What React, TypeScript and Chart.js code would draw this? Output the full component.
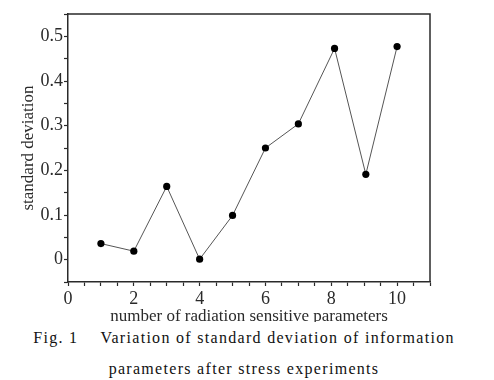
import React, { useEffect, useRef } from "react";
import { Chart, registerables } from "chart.js";

Chart.register(...registerables);

const paramCounts = [1, 2, 3, 4, 5, 6, 7, 8.1, 9.05, 10];
const stdDev = [0.036, 0.019, 0.164, 0.001, 0.099, 0.25, 0.304, 0.473, 0.191, 0.477];
const xTitle = "number of radiation sensitive parameters";
const yTitle = "standard deviation";
const captionLine1a = "Fig. 1";
const captionLine1b = "Variation of standard deviation of information";
const captionLine2 = "parameters after stress experiments";

const SERIF = "'Liberation Serif', 'Times New Roman', serif";
const INK = "#2a2a2a";

const framePlugin = {
  id: "frameBox",
  afterDraw(chart: any) {
    const { ctx, chartArea } = chart;
    ctx.save();
    ctx.strokeStyle = INK;
    ctx.lineWidth = 1.5;
    ctx.beginPath();
    ctx.moveTo(chartArea.left, chartArea.top);
    ctx.lineTo(chartArea.right, chartArea.top);
    ctx.lineTo(chartArea.right, chartArea.bottom);
    ctx.stroke();
    ctx.restore();
  },
};

export default function App() {
  const ref = useRef<HTMLCanvasElement | null>(null);

  useEffect(() => {
    if (!ref.current) return;
    const chart = new Chart(ref.current, {
      type: "line",
      data: {
        datasets: [
          {
            data: paramCounts.map((x, i) => ({ x, y: stdDev[i] })),
            borderColor: "#555",
            borderWidth: 1,
            pointRadius: 3.6,
            pointBackgroundColor: "#000",
            pointBorderColor: "#000",
            pointBorderWidth: 0,
            tension: 0,
          },
        ],
      },
      options: {
        animation: false,
        responsive: false,
        maintainAspectRatio: false,
        layout: { padding: { top: 14, right: 64, left: 0, bottom: 0 } },
        plugins: { legend: { display: false }, tooltip: { enabled: false }, title: { display: false } },
        scales: {
          x: {
            type: "linear",
            min: 0,
            max: 11,
            afterFit: (s: any) => {
              s.height = 40;
            },
            grid: { drawOnChartArea: false, drawTicks: true, tickLength: 4, color: INK, tickWidth: 1.2 },
            border: { display: true, color: INK, width: 1.5 },
            ticks: {
              stepSize: 0.5,
              autoSkip: false,
              maxRotation: 0,
              padding: 2,
              color: INK,
              font: { family: SERIF, size: 18 },
              callback: (v: any) => (Number(v) % 2 === 0 ? String(v) : ""),
            },
            title: {
              display: true,
              text: xTitle,
              color: INK,
              font: { family: SERIF, size: 17, lineHeight: 1 },
              padding: { top: 0, bottom: -3 },
            },
          },
          y: {
            type: "linear",
            min: -0.05,
            max: 0.55,
            afterFit: (s: any) => {
              s.width = 68;
            },
            grid: { drawOnChartArea: false, drawTicks: true, tickLength: 4, color: INK, tickWidth: 1.2 },
            border: { display: true, color: INK, width: 1.5 },
            ticks: {
              stepSize: 0.05,
              autoSkip: false,
              padding: 1,
              color: INK,
              font: { family: SERIF, size: 18 },
              callback: (v: any) => {
                const r = Math.round(Number(v) * 100);
                if (r < 0 || r % 10 !== 0) return "";
                return String(r / 100);
              },
            },
            title: {
              display: true,
              text: yTitle,
              color: INK,
              font: { family: SERIF, size: 17, lineHeight: 1 },
              padding: { top: 20, bottom: 0 },
            },
          },
        },
      },
      plugins: [framePlugin],
    });
    return () => chart.destroy();
  }, []);

  const captionStyle: React.CSSProperties = {
    position: "absolute",
    left: -3,
    width: 494,
    textAlign: "center",
    fontFamily: SERIF,
    fontSize: 16,
    lineHeight: "20px",
    letterSpacing: "1.3px",
    color: "#111",
    whiteSpace: "pre",
  };

  return (
    <div style={{ position: "absolute", left: 0, top: 0, width: 494, height: 380, background: "#fff", overflow: "hidden" }}>
      <canvas ref={ref} width={494} height={322} style={{ position: "absolute", left: 0, top: 0, width: 494, height: 322 }} />
      <div style={{ ...captionStyle, top: 328 }}>
        {captionLine1a}
        <span style={{ display: "inline-block", width: 22 }} />
        {captionLine1b}
      </div>
      <div style={{ ...captionStyle, top: 359 }}>{captionLine2}</div>
    </div>
  );
}
